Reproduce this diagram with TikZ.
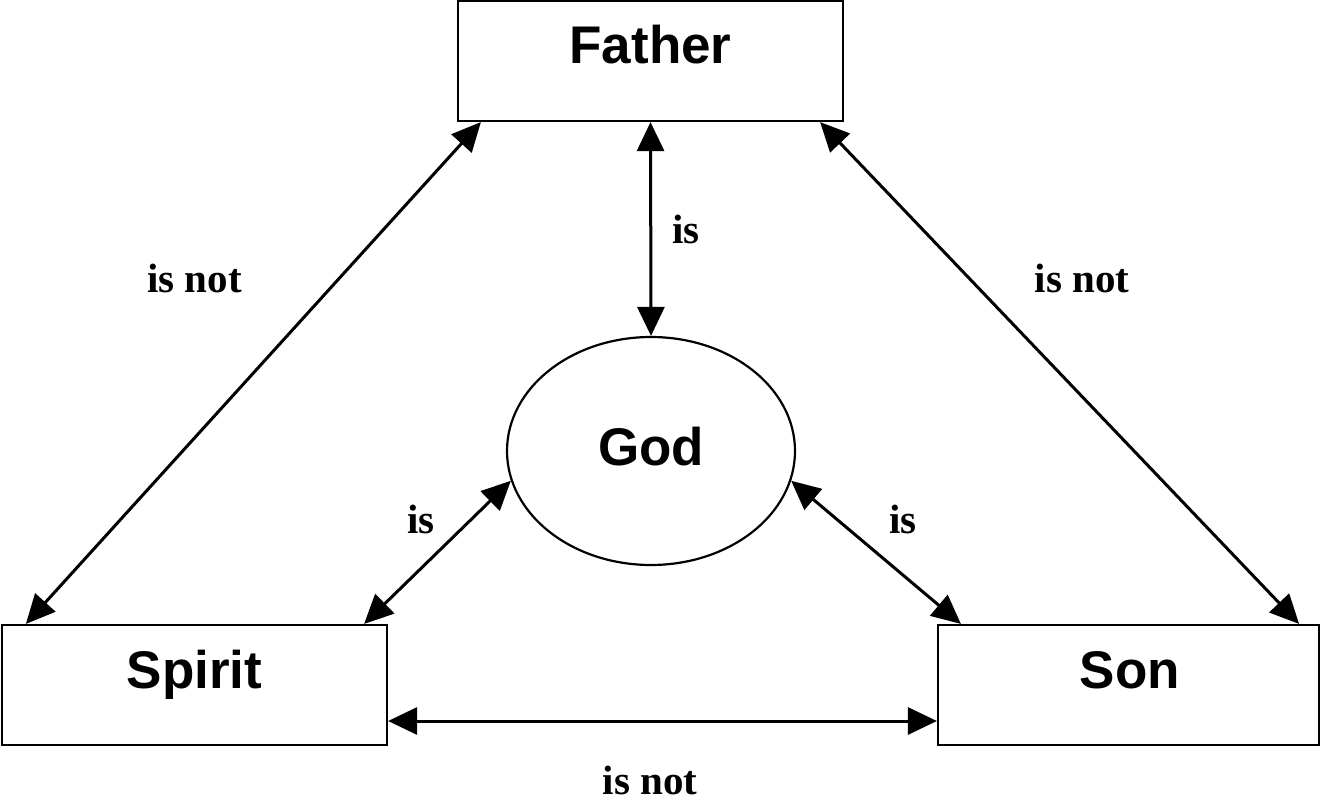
\documentclass[tikz,border=0pt]{standalone}
\usepackage{fontspec}
\setmainfont{Liberation Serif}
\newfontfamily\boxfont{Liberation Sans}
\usetikzlibrary{arrows.meta,shapes.geometric}
\tikzset{
  box/.style={draw=black, line width=2.2pt, rectangle, minimum width=385pt, minimum height=120pt, inner sep=0pt},
  godshape/.style={draw=black, line width=2.2pt, ellipse, minimum width=288pt, minimum height=228pt, inner sep=0pt},
  boxtext/.style={font=\boxfont\fontsize{53}{60}\selectfont\bfseries, anchor=base, inner sep=0pt},
  rel/.style={font=\fontsize{41}{48}\selectfont\bfseries, anchor=base, inner sep=0pt},
  dbl/.style={line width=3pt, {Triangle[length=29pt,width=27pt]}-{Triangle[length=29pt,width=27pt]}}
}
\begin{document}
\begin{tikzpicture}[x=1pt,y=-1pt]
\useasboundingbox (0,0) rectangle (1320,803);
\fill[white] (0,0) rectangle (1320,803);
\node[box] (father) at (650.5,61) {};
\node[box] (spirit) at (194.5,685) {};
\node[box, minimum width=381pt] (son) at (1128.5,685) {};
\node[godshape] (god) at (651,451) {};
\node[boxtext] (fathertext) at (650.5,63) {Father};
\node[boxtext] (spirittext) at (194.5,688) {Spirit};
\node[boxtext] (sontext) at (1130,688) {Son};
\node[boxtext] (godtext) at (651,465) {God};
% connectors
\draw[dbl] ([xshift=24pt]father.south west) -- ([xshift=25pt]spirit.north west);
\draw[dbl] (father.south) -- (god.north);
\draw[dbl] ([xshift=-24pt]father.south east) -- ([xshift=-21pt]son.north east);
\draw[dbl] ([xshift=-24pt]spirit.north east) -- (god.192);
\draw[dbl] ([xshift=24pt]son.north west) -- (god.-12);
\draw[dbl] ([yshift=-36pt]spirit.east) -- ([yshift=-36pt]son.west);
% labels
\node[rel] (l1) at (686,243) {is};
\node[rel] (l2) at (194.5,292) {is not};
\node[rel] (l3) at (1082,292) {is not};
\node[rel] (l4) at (421,533) {is};
\node[rel] (l5) at (903,533) {is};
\node[rel] (l6) at (650,794) {is not};
\end{tikzpicture}
\end{document}
